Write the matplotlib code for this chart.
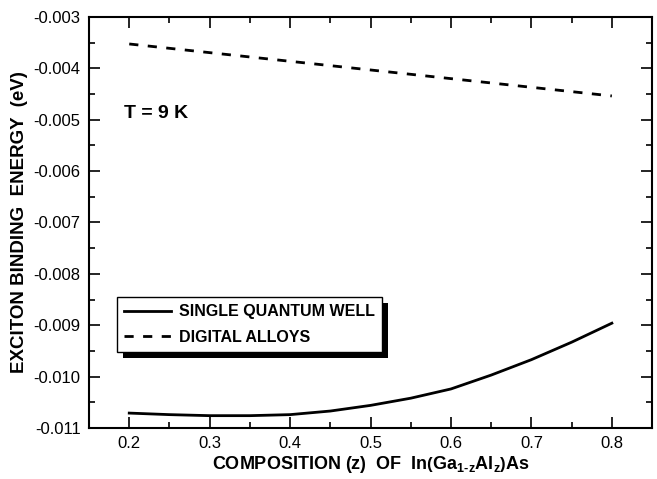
import matplotlib
matplotlib.use('Agg')
import matplotlib.pyplot as plt
import matplotlib.ticker as ticker
from matplotlib.patches import Rectangle

plt.rcParams['font.family'] = 'Liberation Sans'
plt.rcParams['mathtext.fontset'] = 'custom'
plt.rcParams['mathtext.rm'] = 'Liberation Sans:bold'
plt.rcParams['mathtext.bf'] = 'Liberation Sans:bold'
plt.rcParams['mathtext.it'] = 'Liberation Sans:bold'

# composition z and exciton binding energies (eV)
z_sqw = [0.20, 0.25, 0.30, 0.35, 0.40, 0.45, 0.50, 0.55, 0.60, 0.65, 0.70, 0.75, 0.80]
e_sqw = [-0.01071, -0.01074, -0.01076, -0.01076, -0.01074, -0.01067, -0.01056,
         -0.01042, -0.01024, -0.00997, -0.00967, -0.00933, -0.00896]

z_da = [0.20, 0.80]
e_da = [-0.003525, -0.004537]

fig = plt.figure(figsize=(6.57, 4.79), dpi=100)
ax = fig.add_axes([0.1355, 0.1065, 0.857, 0.858])

ax.plot(z_sqw, e_sqw, color='black', linewidth=2.0, label='SINGLE QUANTUM WELL')
ax.plot(z_da, e_da, color='black', linewidth=2.0, dashes=(3.3, 3.4),
        label='DIGITAL ALLOYS')

ax.set_xlim(0.15, 0.85)
ax.set_ylim(-0.011, -0.003)
ax.xaxis.set_major_locator(ticker.MultipleLocator(0.1))
ax.xaxis.set_minor_locator(ticker.MultipleLocator(0.05))
ax.yaxis.set_major_locator(ticker.MultipleLocator(0.001))
ax.yaxis.set_minor_locator(ticker.MultipleLocator(0.0005))
ax.xaxis.set_major_formatter(ticker.FuncFormatter(lambda v, p: f'{v:.1f}'))
ax.yaxis.set_major_formatter(ticker.FuncFormatter(lambda v, p: f'{v:.3f}'))

ax.tick_params(which='both', direction='in', top=True, right=True,
               width=1.2, labelsize=12, pad=6)
ax.tick_params(which='major', length=8)
ax.tick_params(which='minor', length=4)
for s in ax.spines.values():
    s.set_linewidth(1.5)

ax.set_xlabel(r'COMPOSITION (z)  OF  In$\left(\mathbf{Ga_{1\text{-}z}Al_z}\right)$As',
              fontsize=13, fontweight='bold', labelpad=2)
ax.set_ylabel('EXCITON BINDING  ENERGY  (eV)', fontsize=13.5, fontweight='bold',
              labelpad=4)

ax.text(0.193, -0.00487, 'T = 9 K', fontsize=14, fontweight='bold', va='center')

leg = ax.legend(loc='upper left', bbox_to_anchor=(0.0497, 0.3187), borderaxespad=0,
                fancybox=False, edgecolor='black', framealpha=1,
                prop={'weight': 'bold', 'size': 11.5}, handlelength=2.9,
                handletextpad=0.5, borderpad=0.45, labelspacing=0.65)
leg.get_frame().set_linewidth(1.0)
leg.set_zorder(10)

# solid drop shadow under the legend box
fig.canvas.draw()
bb = leg.get_window_extent().transformed(fig.transFigure.inverted())
dx, dy = 6 / 657, 6 / 479
ax.add_patch(Rectangle((bb.x0 + dx, bb.y0 - dy), bb.width, bb.height,
                       transform=fig.transFigure, facecolor='black',
                       edgecolor='none', zorder=9, clip_on=False))

fig.savefig('out.png', dpi=100)
